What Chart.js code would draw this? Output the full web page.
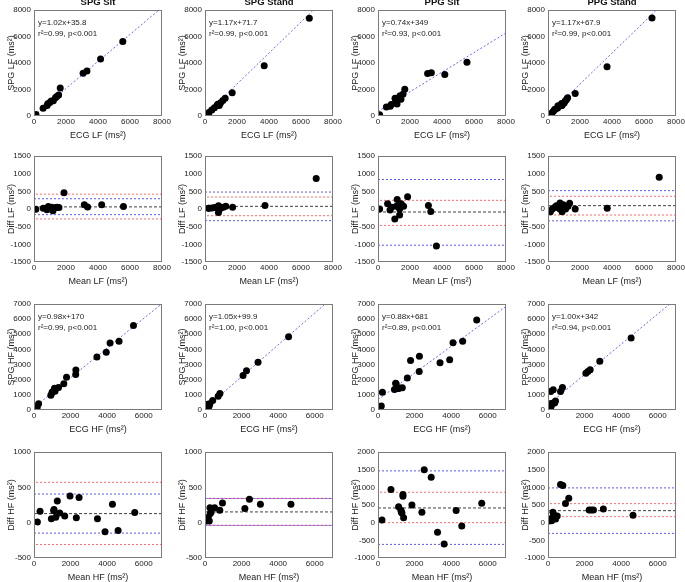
<!DOCTYPE html>
<html>
<head>
<meta charset="utf-8">
<script src="https://cdn.jsdelivr.net/npm/chart.js@4/dist/chart.umd.min.js"></script>
<style>
	body { margin: 0; background: #fff; font-family: "Liberation Sans", Arial, sans-serif; }
	#fig { position: relative; width: 685px; height: 582px; overflow: hidden; }
	#fig canvas { position: absolute; }
	.title { position: absolute; font-size: 9.5px; font-weight: bold; line-height: 12px; text-align: center; color: #111; }
	.eq { position: absolute; font-size: 8px; line-height: 10.5px; color: #222; white-space: nowrap; }
</style>
</head>
<body>
<div id="fig"></div>
<script>
let colTitles = ["SPG Sit", "SPG Stand", "PPG Sit", "PPG Stand"];
let devices = ["SPG", "SPG", "PPG", "PPG"];

// row 1: ECG LF vs device LF
let lfSpgSit = [[120,110],[570,590],[820,800],[860,930],[990,1010],[1080,1130],[1210,1160],[1340,1380],[1420,1470],[1540,1580],[1640,2110],[3070,3220],[3310,3390],[4160,4300],[5550,5630]];
let lfSpgStand = [[200,220],[250,270],[420,450],[590,630],[750,790],[800,890],[890,790],[890,870],[975,1005],[1115,1165],[1260,1340],[1700,1750],[3700,3800],[6520,7380]];
let lfPpgSit = [[100,100],[525,675],[765,735],[825,875],[1190,910],[1110,1190],[1065,1335],[1435,1265],[1350,1350],[1375,1525],[1560,1640],[1675,2025],[3100,3200],[3335,3265],[4175,3125],[5560,4050]];
let lfPpgStand = [[190,110],[250,250],[335,365],[410,490],[475,525],[600,600],[625,775],[825,775],[890,810],[850,950],[1010,990],[1075,1125],[1160,1240],[1225,1375],[1700,1700],[3690,3710],[6500,7400]];

// row 2: mean LF vs diff LF
let lfDiffSpgSit = [[115,-10],[580,20],[810,-20],[895,70],[1000,20],[1105,50],[1185,-50],[1360,40],[1445,50],[1560,40],[1875,460],[3145,120],[3350,60],[4230,120],[5590,70]];
let lfDiffSpgStand = [[210,20],[260,20],[435,30],[610,40],[770,40],[845,90],[840,-100],[880,-20],[990,30],[1140,50],[1300,80],[1725,50],[3750,100],[6950,860]];
let lfDiffPpgSit = [[100,0],[600,150],[750,-30],[850,50],[1050,-280],[1150,80],[1200,270],[1350,-170],[1350,0],[1450,150],[1600,80],[1850,350],[3150,100],[3300,-70],[3650,-1050]];
let lfDiffPpgStand = [[150,-80],[270,0],[400,40],[520,90],[600,50],[750,0],[750,170],[860,50],[880,-80],[950,120],[1100,0],[1250,80],[1350,160],[1700,0],[3700,20],[6950,900]];

// row 3: ECG HF vs device HF
let hfSpgSit = [[180,190],[250,410],[920,980],[990,1160],[1000,1190],[1150,1230],[1120,1430],[1340,1480],[1630,1730],[1780,2160],[2280,2350],[2290,2640],[3440,3500],[3950,3820],[4160,4420],[4650,4540],[5440,5580]];
let hfSpgStand = [[45,65],[80,135],[120,165],[140,220],[220,245],[165,375],[225,350],[265,420],[420,630],[720,900],[815,1095],[2080,2280],[2270,2600],[2900,3160],[4570,4830]];
let hfPpgSit = [[180,256],[241,1177],[900,1354],[1080,1430],[1121,1425],[1172,1446],[966,1762],[990,1738],[1329,1471],[1604,2105],[2253,2547],[1780,3275],[2265,3553],[3392,3118],[3920,3315],[4102,4443],[4630,4535],[5398,5947]];
let hfPpgStand = [[30,77],[70,146],[114,209],[170,227],[163,305],[123,417],[220,428],[293,463],[362,466],[410,599],[146,1224],[286,1336],[685,1225],[790,1480],[2072,2432],[2180,2540],[2306,2666],[2833,3221],[4545,4753]];

// row 4: mean HF vs diff HF
let hfDiffSpgSit = [[185,10],[330,160],[950,57],[1075,167],[1095,185],[1190,76],[1275,305],[1405,138],[1680,95],[1970,376],[2315,71],[2465,357],[3470,57],[3885,-128],[4290,262],[4600,-110],[5510,143]];
let hfDiffSpgStand = [[55,25],[110,55],[145,45],[180,75],[235,25],[270,210],[290,130],[340,150],[525,210],[810,175],[955,280],[2180,200],[2430,330],[3030,260],[4700,260]];
let hfDiffPpgSit = [[218,76],[709,936],[1127,454],[1255,350],[1273,303],[1309,274],[1364,795],[1364,747],[1400,142],[1855,501],[2400,293],[2527,1495],[2909,1287],[3255,-274],[3618,-605],[4273,341],[4582,-95],[5673,549]];
let hfDiffPpgStand = [[54,47],[108,76],[162,95],[198,57],[234,142],[270,293],[324,208],[378,170],[414,104],[504,189],[685,1078],[811,1050],[955,539],[1135,690],[2252,359],[2360,359],[2486,359],[3027,388],[4649,208]];

// regression fits
let lfSlope = [1.02, 1.17, 0.74, 1.17];
let lfIntercept = [35.8, 71.7, 349, 67.9];
let lfR2 = ["0.99", "0.99", "0.93", "0.99"];
let hfSlope = [0.98, 1.05, 0.88, 1.00];
let hfIntercept = [170, 99.9, 681, 342];
let hfR2 = ["0.99", "1.00", "0.89", "0.94"];

// Bland-Altman lines
let lfBias = [60, 75, -85, 95];
let lfBlue = [[290,-160],[480,-330],[835,-1025],[520,-335]];
let lfRed = [[420,-280],[340,-190],[245,-465],[360,-170]];
let hfBias = [128, 152, 416, 340];
let hfBlue = [[405,-148],[343,-38],[1466,-615],[984,-303]];
let hfRed = [[571,-309],[343,-38],[861,0],[539,170]];

// axis ranges [min, max] and tick labels
let lfRange = [0, 8000];
let lfTicks = [0, 2000, 4000, 6000, 8000];
let lfDiffRange = [-1500, 1500];
let lfDiffTicks = [-1500, -1000, -500, 0, 500, 1000, 1500];
let hfRange = [0, 7000];
let hfXTicks = [0, 2000, 4000, 6000];
let hfYTicks = [0, 1000, 2000, 3000, 4000, 5000, 6000, 7000];
let hfDiffRanges = [[-500, 1000], [-500, 1000], [-1000, 2000], [-1000, 2000]];
let hfDiffTicksSpg = [-500, 0, 500, 1000];
let hfDiffTicksPpg = [-1000, -500, 0, 500, 1000, 1500, 2000];

let colLeft = [34, 205, 378, 548];
let rowTop = [10, 156, 304, 452];
const PW = 128, PH = 106, AXW = 34, AXH = 30, PADT = 8, PADR = 12;

Chart.defaults.font.family = "'Liberation Sans', Arial, sans-serif";
Chart.defaults.color = "#222";

let fig = document.getElementById("fig");

let frame = {
	id: "frame",
	afterDraw(chart) {
		let a = chart.chartArea, ctx = chart.ctx;
		ctx.save();
		ctx.strokeStyle = "#7a7a7a";
		ctx.lineWidth = 1;
		ctx.strokeRect(Math.round(a.left) + 0.5, Math.round(a.top) + 0.5, Math.round(a.right - a.left) - 1, Math.round(a.bottom - a.top) - 1);
		ctx.restore();
	},
};

let hLine = (x0, x1, y, color, dash, offset) => ({
	data: [{ x: x0, y: y }, { x: x1, y: y }],
	showLine: true,
	pointRadius: 0,
	borderColor: color,
	borderWidth: 1,
	borderDash: dash,
	borderDashOffset: offset || 0,
});

let makeAxis = (range, ticks, title, horizontal) => ({
	type: "linear",
	min: range[0],
	max: range[1],
	grid: { display: false, drawTicks: false },
	border: { display: false },
	afterBuildTicks: (scale) => {
		scale.ticks = ticks.map((v) => ({ value: v }));
	},
	ticks: {
		autoSkip: false,
		maxRotation: 0,
		padding: horizontal ? 1 : 3,
		font: { size: 8 },
		color: "#222",
		callback: (v) => String(v),
	},
	title: {
		display: true,
		text: title,
		font: { size: 9 },
		color: "#222",
		padding: horizontal ? { top: 0, bottom: 5 } : { top: 6, bottom: 0 },
	},
	afterFit: (scale) => {
		if (horizontal) scale.height = AXH;
		else scale.width = AXW;
	},
});

let renderPanel = (p) => {
	let c = document.createElement("canvas");
	c.width = AXW + PW + PADR;
	c.height = PADT + PH + AXH;
	c.style.left = (colLeft[p.col] - AXW) + "px";
	c.style.top = (rowTop[p.row] - PADT) + "px";
	fig.appendChild(c);

	let datasets = [{
		data: p.points.map((d) => ({ x: d[0], y: d[1] })),
		pointRadius: 3.5,
		pointBackgroundColor: "#000",
		pointBorderColor: "#000",
		pointBorderWidth: 0,
	}];
	let x0 = p.xRange[0], x1 = p.xRange[1];
	if (p.fit) {
		datasets.push({
			data: [{ x: x0, y: p.fit[0] * x0 + p.fit[1] }, { x: x1, y: p.fit[0] * x1 + p.fit[1] }],
			showLine: true,
			pointRadius: 0,
			borderColor: "rgba(80, 80, 255, 0.85)",
			borderWidth: 1,
			borderDash: [2, 2],
		});
	}
	if (p.bias !== undefined) {
		datasets.push(hLine(x0, x1, p.bias, "rgba(30, 30, 30, 0.85)", [3, 2]));
		p.red.forEach((v) => datasets.push(hLine(x0, x1, v, "rgba(255, 80, 80, 0.85)", [2, 2], 2)));
		p.blue.forEach((v) => datasets.push(hLine(x0, x1, v, "rgba(60, 60, 255, 0.85)", [2, 2])));
	}

	new Chart(c, {
		type: "scatter",
		data: { datasets: datasets },
		options: {
			responsive: false,
			animation: false,
			events: [],
			layout: { padding: { top: PADT, right: PADR, left: 0, bottom: 0 } },
			plugins: { legend: { display: false }, tooltip: { enabled: false } },
			scales: {
				x: makeAxis(p.xRange, p.xTicks, p.xLabel, true),
				y: makeAxis(p.yRange, p.yTicks, p.yLabel, false),
			},
		},
		plugins: [frame],
	});

	if (p.fit) {
		let eq = document.createElement("div");
		eq.className = "eq";
		eq.style.left = (colLeft[p.col] + 4) + "px";
		eq.style.top = (rowTop[p.row] + 8) + "px";
		eq.innerHTML = "y=" + p.fit[0].toFixed(2) + "x+" + p.fit[1] + "<br>r\u00b2=" + p.r2 + ", p&lt;0.001";
		fig.appendChild(eq);
	}
};

let lfSets = [lfSpgSit, lfSpgStand, lfPpgSit, lfPpgStand];
let lfDiffSets = [lfDiffSpgSit, lfDiffSpgStand, lfDiffPpgSit, lfDiffPpgStand];
let hfSets = [hfSpgSit, hfSpgStand, hfPpgSit, hfPpgStand];
let hfDiffSets = [hfDiffSpgSit, hfDiffSpgStand, hfDiffPpgSit, hfDiffPpgStand];

for (let col = 0; col < 4; col++) {
	renderPanel({ row: 0, col: col, points: lfSets[col],
		xRange: lfRange, xTicks: lfTicks, yRange: lfRange, yTicks: lfTicks,
		xLabel: "ECG LF (ms\u00b2)", yLabel: devices[col] + " LF (ms\u00b2)",
		fit: [lfSlope[col], lfIntercept[col]], r2: lfR2[col] });
	renderPanel({ row: 1, col: col, points: lfDiffSets[col],
		xRange: lfRange, xTicks: lfTicks, yRange: lfDiffRange, yTicks: lfDiffTicks,
		xLabel: "Mean LF (ms\u00b2)", yLabel: "Diff LF (ms\u00b2)",
		bias: lfBias[col], blue: lfBlue[col], red: lfRed[col] });
	renderPanel({ row: 2, col: col, points: hfSets[col],
		xRange: hfRange, xTicks: hfXTicks, yRange: hfRange, yTicks: hfYTicks,
		xLabel: "ECG HF (ms\u00b2)", yLabel: devices[col] + " HF (ms\u00b2)",
		fit: [hfSlope[col], hfIntercept[col]], r2: hfR2[col] });
	renderPanel({ row: 3, col: col, points: hfDiffSets[col],
		xRange: hfRange, xTicks: hfXTicks, yRange: hfDiffRanges[col],
		yTicks: col < 2 ? hfDiffTicksSpg : hfDiffTicksPpg,
		xLabel: "Mean HF (ms\u00b2)", yLabel: "Diff HF (ms\u00b2)",
		bias: hfBias[col], blue: hfBlue[col], red: hfRed[col] });

	let t = document.createElement("div");
	t.className = "title";
	t.style.left = colLeft[col] + "px";
	t.style.width = PW + "px";
	t.style.top = "-4px";
	t.textContent = colTitles[col];
	fig.appendChild(t);
}
</script>
</body>
</html>
